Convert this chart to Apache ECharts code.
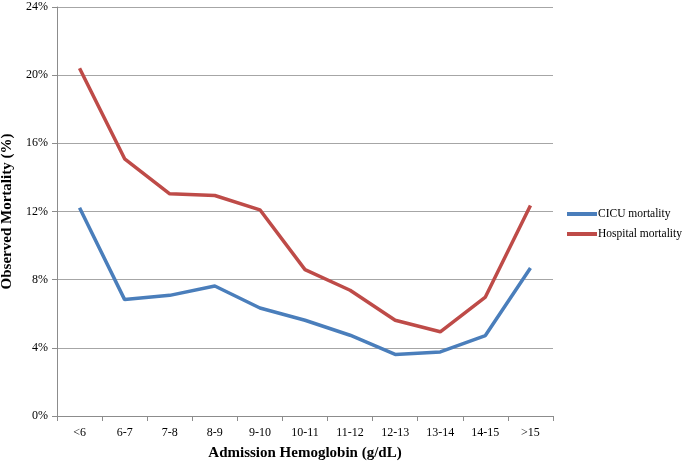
<!DOCTYPE html>
<html>
<head>
<meta charset="utf-8">
<script src="https://cdn.jsdelivr.net/npm/echarts@6/dist/echarts.min.js"></script>
<style>
  html, body { margin: 0; padding: 0; background: #fff; }
  #chart { width: 685px; height: 464px; }
</style>
</head>
<body>
<div id="chart"></div>
<script>
// 資料
const categories = ['<6', '6-7', '7-8', '8-9', '9-10', '10-11', '11-12', '12-13', '13-14', '14-15', '>15']
const cicuMortality = [12.22, 6.83, 7.08, 7.63, 6.34, 5.62, 4.74, 3.61, 3.76, 4.72, 8.68]
const hospitalMortality = [20.41, 15.09, 13.04, 12.94, 12.1, 8.59, 7.38, 5.62, 4.94, 6.98, 12.35]
const yTicks = [0, 4, 8, 12, 16, 20, 24]

const font = 'Liberation Serif, Times New Roman, serif'
const chart = echarts.init(document.getElementById('chart'))

const option = {
  animation: false,
  textStyle: { fontFamily: font },
  grid: { left: 57, right: 132, top: 7, bottom: 48, containLabel: false, outerBoundsMode: 'none' },
  legend: {
    orient: 'vertical',
    left: 562,
    top: 203,
    itemWidth: 30,
    itemHeight: 4,
    itemGap: 8,
    icon: 'rect',
    textStyle: { fontFamily: font, fontSize: 11.5, color: '#000', padding: [0, 0, 0, -4] },
    data: ['CICU mortality', 'Hospital mortality']
  },
  xAxis: {
    type: 'category',
    data: categories,
    boundaryGap: true,
    name: 'Admission Hemoglobin (g/dL)',
    nameLocation: 'middle',
    nameGap: 30,
    nameTextStyle: { fontFamily: font, fontSize: 15, fontWeight: 'bold', color: '#000' },
    axisLine: { lineStyle: { color: '#8c8c8c', width: 1 } },
    axisTick: { show: true, length: 5, lineStyle: { color: '#8c8c8c' } },
    axisLabel: { fontFamily: font, fontSize: 12, color: '#000', margin: 11 }
  },
  yAxis: {
    type: 'value',
    min: yTicks[0],
    max: yTicks[yTicks.length - 1],
    interval: 4,
    name: 'Observed Mortality (%)',
    nameLocation: 'middle',
    nameGap: 38,
    nameTextStyle: { fontFamily: font, fontSize: 15, fontWeight: 'bold', color: '#000' },
    axisLine: { show: true, lineStyle: { color: '#8c8c8c', width: 1 } },
    axisTick: { show: true, length: 5, lineStyle: { color: '#8c8c8c' } },
    axisLabel: { fontFamily: font, fontSize: 12, color: '#000', margin: 9, formatter: '{value}%' },
    splitLine: { lineStyle: { color: '#a6a6a6', width: 1 } }
  },
  series: [
    {
      name: 'CICU mortality',
      type: 'line',
      data: cicuMortality,
      symbol: 'none',
      color: '#4a7ebb',
      lineStyle: { width: 3.5, color: '#4a7ebb' }
    },
    {
      name: 'Hospital mortality',
      type: 'line',
      data: hospitalMortality,
      symbol: 'none',
      color: '#be4b48',
      lineStyle: { width: 3.5, color: '#be4b48' }
    }
  ]
}

chart.setOption(option)
</script>
</body>
</html>
